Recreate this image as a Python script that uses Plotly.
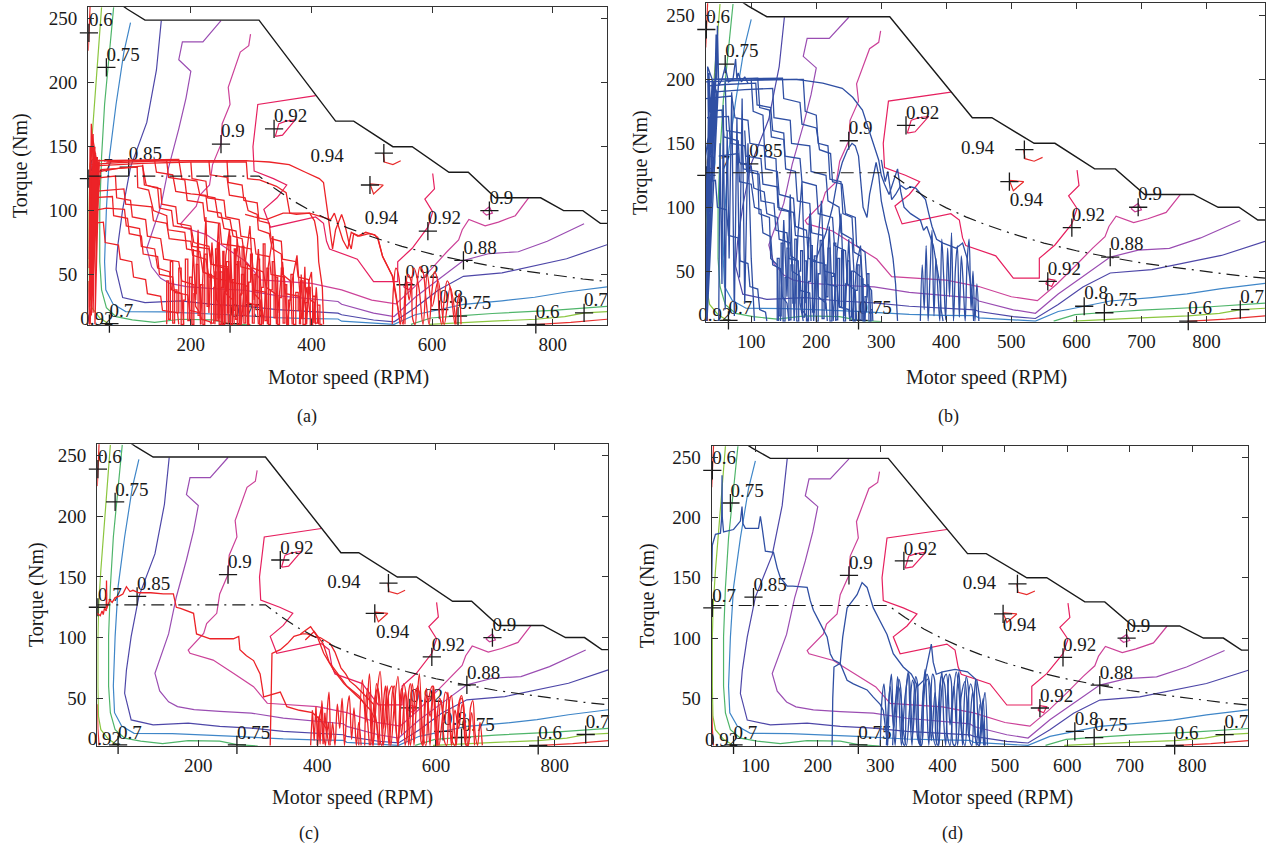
import plotly.graph_objects as go

W, H = 1267, 849
FONT = "Liberation Serif"
INK = "#1a1a1a"

# ---------------- axes ----------------
RPM_RANGE = [30, 890]
TORQUE_RANGE = [10.5, 259.5]
TORQUE_TICKS = [50, 100, 150, 200, 250]
RPM_TICKS_AC = [200, 400, 600, 800]
RPM_TICKS_BD = [100, 200, 300, 400, 500, 600, 700, 800]

# ---------------- efficiency map contour lines (same map in all panels) ----------------
EFF_COLORS = {0.6: "#e8302f", 0.7: "#8cc63f", 0.75: "#4fb56a", 0.8: "#3f86c8",
              0.85: "#4e47a8", 0.88: "#9a4db2", 0.9: "#cc4299", 0.92: "#e6205f", 0.94: "#e82c2c"}

eff060_top_rpm = [33, 31.5, 30]
eff060_top_tq = [260, 240, 225]
eff060_low_rpm = [30.2, 31, 33]
eff060_low_tq = [45, 25, 11]
eff060_right_rpm = [770, 830, 890]
eff060_right_tq = [10.8, 12.5, 15]

eff070_left_rpm = [52, 46.6, 41.3, 36, 32.2, 31, 31, 32, 36, 49, 65]
eff070_left_tq = [259, 224, 197, 156, 125, 100, 60, 35, 24, 16, 11]
eff070_right_rpm = [595, 650, 700, 772, 820, 853, 890]
eff070_right_tq = [11, 12.5, 13.5, 15, 17, 20, 21]

eff075_left_rpm = [72, 65, 57, 52, 49, 49, 52, 60, 76, 103, 140, 183, 236, 265, 300]
eff075_left_tq = [259, 224, 183, 142, 101, 60, 38, 24, 17, 14.5, 12.5, 15, 14.5, 11.6, 10.5]
eff075_right_rpm = [565, 598, 644, 700, 800, 853, 890]
eff075_right_tq = [11, 16, 17.7, 19.5, 22, 23.5, 25]

eff080_rpm = [100, 89, 76, 65, 60, 57, 59, 71, 92, 156, 263, 343, 396, 444, 450, 500,
              537, 572, 612, 652, 716, 770, 823, 890]
eff080_tq = [247, 224, 183, 142, 101, 60, 38, 27, 21, 20.7, 18.5, 16.3, 15.5, 15.2, 13.5, 12,
             11, 18.5, 22.6, 26.7, 29.4, 32.2, 36.3, 40.4]

eff085_rpm = [151, 143, 127, 100, 87, 79, 76, 87, 124, 183, 236, 289, 343, 396, 444, 450, 503,
              537, 572, 610, 652, 716, 770, 823, 890]
eff085_tq = [248.6, 210, 169, 134, 101, 73, 54, 32, 28, 29.4, 26.7, 25.3, 22.6, 21.2, 19.8, 18.5,
             14.4, 13, 24, 37.7, 48.6, 51.3, 56.8, 62.3, 73.3]

eff088_rpm = [250, 220, 186, 180, 200, 192, 180, 163, 150, 127, 135, 150, 165, 193, 236, 289, 343,
              396, 444, 450, 503, 537, 572, 610, 652, 695, 743, 791, 823, 852]
eff088_tq = [248.6, 232, 232, 218, 209, 188, 164, 133.5, 103, 70.5, 56, 47, 43, 40.5, 39, 37.7, 33.5,
             30.8, 28.9, 26.7, 19.8, 17.1, 32.2, 45.9, 61, 66.4, 67.8, 76, 82.9, 89.7]

eff090_rpm = [299, 296, 282, 270, 262, 265, 252, 250, 236, 231, 214, 209, 183, 186, 225, 259, 293,
              316, 355, 400, 450, 500, 540, 570, 600, 625, 644, 650, 661, 688, 710, 738, 760]
eff090_tq = [238, 229, 224, 207.5, 196.5, 183, 168, 152, 136, 120, 111.6, 103.4, 89.6, 87, 81.4,
             70.5, 59.5, 45.8, 44.4, 43, 38, 30, 27, 40, 55, 68, 77, 85, 93, 88, 91, 96, 110]
eff090_loop_rpm = [684, 695, 700, 690, 684]
eff090_loop_tq = [99, 103, 98, 96.5, 99]

eff092_rpm = [407, 311, 303, 305, 337, 359, 343, 321, 332, 361, 407, 420, 425, 430, 476, 503, 543,
              543, 567, 593, 601, 588, 604, 601]
eff092_tq = [190, 183, 150, 131, 125, 120, 110, 101, 87, 90, 95, 90, 76, 70, 62, 44.5, 44.5, 60,
             70.5, 87, 99, 109, 117, 129]
eff092_loop_rpm = [340, 346, 358, 373, 352, 340]
eff092_loop_tq = [158, 168, 170, 171, 159, 158]
eff092_small_rpm = [553, 556, 567, 562, 553]
eff092_small_tq = [40, 44, 43, 38, 40]

eff094_l1_rpm = [519, 521, 535, 548]
eff094_l1_tq = [145, 138, 136, 139]
eff094_l2_rpm = [497, 503, 519, 497]
eff094_l2_tq = [121, 113, 120, 121]

CONTOURS = [
    (0.6, eff060_top_rpm, eff060_top_tq), (0.6, eff060_low_rpm, eff060_low_tq),
    (0.6, eff060_right_rpm, eff060_right_tq),
    (0.7, eff070_left_rpm, eff070_left_tq), (0.7, eff070_right_rpm, eff070_right_tq),
    (0.75, eff075_left_rpm, eff075_left_tq), (0.75, eff075_right_rpm, eff075_right_tq),
    (0.8, eff080_rpm, eff080_tq), (0.85, eff085_rpm, eff085_tq), (0.88, eff088_rpm, eff088_tq),
    (0.9, eff090_rpm, eff090_tq), (0.9, eff090_loop_rpm, eff090_loop_tq),
    (0.92, eff092_rpm, eff092_tq), (0.92, eff092_loop_rpm, eff092_loop_tq),
    (0.92, eff092_small_rpm, eff092_small_tq),
    (0.94, eff094_l1_rpm, eff094_l1_tq), (0.94, eff094_l2_rpm, eff094_l2_tq),
]

# max torque envelope and base-speed (constant power) line
env_rpm = [70, 95, 124, 313, 440, 470, 535, 567, 628, 660, 705, 780, 818, 850, 879, 890]
env_tq = [266, 257.5, 249, 249, 170, 170, 150, 150, 130, 130, 110, 110, 100, 100, 90, 90]
base_rpm = [30, 313, 340, 370, 400, 430, 460, 500, 550, 600, 650, 700, 750, 800, 850, 890]
base_tq = [127, 127, 117, 107.5, 99.5, 92.5, 86.5, 79.5, 72, 66, 61, 56.5, 53, 49.5, 46.5, 44.5]

# contour labels ('+' markers) shared by all panels
lab_rpm = [31, 60, 31, 97, 250, 338, 520, 497, 593, 695, 652, 556, 612, 643, 772, 852, 65, 265]
lab_tq = [239, 212, 125, 134, 152, 164, 145, 120, 84, 100, 61, 42, 22.6, 17.5, 11, 20, 11.5, 11.5]
lab_txt = ["0.6", "0.75", "0.7", "0.85", "0.9", "0.92", "", "", "0.92", "0.9", "0.88", "0.92",
           "0.8", "0.75", "0.6", "0.7", "0.7", "0.75"]

# free-standing labels per panel
free_a_rpm, free_a_tq, free_a_txt = [426, 516, 44], [142, 93, 14.5], ["0.94", "0.94", "0.92"]
free_b_rpm, free_b_tq, free_b_txt = [448, 523, 44], [145, 105, 14.5], ["0.94", "0.94", "0.92"]
free_c_rpm, free_c_tq, free_c_txt = [445, 527, 42], [144.5, 103.4, 15.6], ["0.94", "0.94", "0.92"]
free_d_rpm, free_d_tq, free_d_txt = [459, 523, 46], [144.5, 110, 14.5], ["0.94", "0.94", "0.92"]

# ---------------- operating-point trajectories ----------------
# panel (a)
ta1_rpm = [31, 32, 31, 34, 32, 35, 31, 33, 36, 32, 38, 35, 33, 40, 31, 37, 34, 42, 32, 36, 45, 33, 38,
           31, 48, 35, 40, 33, 44, 31, 37, 50, 34, 41, 32, 36, 46, 33, 31]
ta1_tq = [11, 50, 20, 95, 35, 130, 62, 150, 110, 25, 140, 168, 75, 138, 15, 122, 45, 145, 88, 160, 136,
          30, 128, 70, 140, 18, 118, 100, 142, 55, 135, 130, 40, 150, 82, 126, 138, 12, 11]
ta2_rpm = [35, 60, 100, 150, 200, 250, 292, 330, 363, 390, 413, 420, 424, 427, 432, 435, 440, 450,
           455, 462, 466, 470, 480, 495, 505, 510, 518, 527, 535, 540, 545, 547]
ta2_tq = [136, 137, 138, 139, 139, 139, 139, 138, 136, 130, 125, 122, 110, 98, 80, 70, 85, 97, 90, 75,
          70, 82, 80, 82, 81, 78, 64, 55, 48, 35, 20, 11]
ta3_rpm = [40, 120, 200, 292, 294, 314, 342, 358, 364, 375, 397, 405, 410, 412, 418, 420]
ta3_tq = [135, 137, 138, 138, 125, 124, 119, 114, 98, 97, 98, 92, 80, 60, 40, 11]
ta4_rpm = [40, 80, 120, 126, 140, 150, 152, 175, 178, 200, 205, 230, 235, 255, 258, 270, 272]
ta4_tq = [130, 133, 135, 120, 118, 117, 105, 103, 90, 88, 75, 72, 58, 55, 35, 30, 11]
ta5_rpm = [35, 75, 77, 100, 103, 125, 128, 150, 155, 180, 185, 205, 208, 215, 217]
ta5_tq = [125, 127, 110, 108, 95, 93, 80, 78, 62, 60, 45, 42, 25, 20, 11]
ta6_rpm = [45, 180, 185, 210, 215, 240, 245, 265, 270, 285, 290, 300, 305, 315, 318]
ta6_tq = [139, 140, 125, 123, 112, 110, 95, 93, 80, 78, 60, 55, 35, 30, 11]
ta7_rpm = [50, 100, 111, 112, 130, 138, 160, 162, 190, 193, 215, 220, 240, 243, 250, 252]
ta7_tq = [132, 134, 134, 118, 116, 100, 96, 85, 83, 70, 68, 52, 48, 30, 25, 11]
ta8_rpm = [38, 60, 90, 93, 115, 118, 140, 145, 165, 168, 185, 188]
ta8_tq = [100, 102, 101, 88, 86, 72, 70, 55, 52, 38, 35, 11]
ta9_rpm = [40, 89, 92, 135, 138, 160, 164, 200, 203, 225, 230, 260, 262]
ta9_tq = [115, 117, 105, 103, 92, 90, 78, 76, 65, 62, 48, 45, 11]
ta10_rpm = [230, 232, 260, 264, 290, 295, 310, 312, 330, 335, 350, 352, 365, 368]
ta10_tq = [139, 128, 126, 112, 110, 100, 97, 85, 82, 70, 66, 50, 45, 11]
ta11_rpm = [140, 143, 170, 175, 200, 225, 228, 250, 255, 275, 278, 300, 303, 320, 325, 340, 342]
ta11_tq = [139, 130, 128, 115, 113, 112, 100, 98, 86, 84, 72, 70, 55, 52, 40, 35, 11]
ta12_rpm = [290, 305, 325, 353, 397, 413, 425, 432, 438, 452, 460, 466, 477, 490, 504, 510, 518, 534,
            545, 548]
ta12_tq = [97, 95, 93, 98, 98, 96, 94, 93, 98, 77, 70, 83, 80, 83, 81, 79, 64, 49, 20, 11]
ta13_rpm = [160, 163, 166, 170, 173, 177, 180, 184, 188, 191, 195, 198, 202, 205, 209, 212, 216, 220,
            223, 227, 230, 234, 238, 241, 245, 248, 252, 256, 259, 263, 266, 270, 273, 277, 281, 284,
            288, 291, 295, 298]
ta13_tq = [11, 45, 15, 60, 12, 38, 20, 55, 11, 30, 62, 14, 48, 11, 35, 58, 18, 42, 11, 66, 25, 50, 12,
           40, 70, 16, 52, 11, 37, 60, 13, 45, 22, 58, 11, 34, 50, 12, 41, 11]
ta14_rpm = [240, 242, 245, 247, 250, 253, 255, 258, 261, 263, 266, 269, 272, 274, 277, 280, 283, 285,
            288, 291, 294, 296, 299, 302, 305, 308, 311, 314, 317, 320, 323, 326, 329, 332, 335, 338,
            341, 344, 347, 350, 353, 356, 359, 362, 366, 370, 374, 378, 382, 386, 390, 394, 398, 402,
            406, 410, 414, 418]
ta14_tq = [11, 52, 14, 75, 11, 40, 68, 12, 55, 20, 80, 11, 46, 70, 15, 60, 11, 35, 72, 18, 58, 11, 44,
           66, 12, 50, 25, 62, 11, 40, 74, 14, 55, 11, 38, 60, 16, 48, 11, 32, 55, 12, 42, 11, 30, 50,
           11, 36, 22, 45, 11, 28, 40, 11, 33, 12, 26, 11]
ta15_rpm = [200, 204, 208, 212, 216, 221, 225, 230, 235, 240, 246, 252, 258, 264, 270, 277, 284, 291,
            298, 305, 312, 320, 328, 336, 344, 352, 360, 368, 376, 384, 392, 400]
ta15_tq = [11, 70, 30, 85, 11, 60, 95, 20, 75, 40, 90, 11, 65, 85, 25, 78, 11, 62, 88, 30, 70, 11, 55,
           80, 20, 60, 11, 45, 65, 15, 40, 11]
ta16_rpm = [380, 383, 386, 389, 392, 396, 400, 404, 408, 412]
ta16_tq = [11, 50, 15, 56, 11, 45, 52, 12, 40, 11]
ta17_rpm = [534, 536, 540, 545, 548, 552, 555, 560, 565, 568, 572, 575, 580, 585, 590, 595, 600, 604,
            608, 612, 616, 620, 625, 630, 634, 638, 642, 645, 648]
ta17_tq = [11, 40, 55, 48, 20, 11, 35, 50, 45, 15, 11, 42, 56, 52, 30, 11, 38, 52, 48, 20, 11, 30, 45,
           40, 25, 11, 28, 35, 11]
ta18_rpm = [555, 558, 562, 570, 578, 585, 592, 600, 610, 620, 630, 640]
ta18_tq = [11, 45, 30, 55, 40, 11, 50, 25, 45, 11, 40, 11]
ta19_rpm = [60, 100, 160, 163, 190, 194, 220, 223, 248, 251, 280, 283, 300, 303, 325, 327]
ta19_tq = [138, 139, 139, 126, 124, 108, 106, 92, 90, 74, 72, 56, 54, 38, 36, 11]
ta20_rpm = [33, 70, 72, 95, 98, 118, 121, 145, 148, 170, 173, 195, 198, 215, 218, 232, 234]
ta20_tq = [110, 111, 96, 94, 82, 80, 66, 64, 50, 48, 36, 34, 22, 20, 15, 13, 11]
ta21_rpm = [37, 55, 58, 80, 83, 102, 105, 125, 128, 150, 153, 178, 180]
ta21_tq = [90, 91, 75, 73, 62, 60, 48, 46, 35, 33, 22, 20, 11]
ta22_rpm = [120, 123, 145, 148, 168, 171, 200, 203, 230, 233, 262, 265, 290, 293, 310, 312]
ta22_tq = [136, 120, 118, 102, 100, 88, 86, 72, 70, 58, 56, 44, 42, 28, 26, 11]
ta23_rpm = [200, 202, 225, 228, 255, 258, 280, 283, 305, 308, 330, 333, 355, 357, 380, 382]
ta23_tq = [138, 125, 123, 110, 108, 95, 93, 80, 78, 66, 64, 50, 48, 35, 33, 11]
ta24_rpm = [260, 262, 285, 288, 310, 313, 330, 333, 350, 352, 375, 378, 395, 398, 405, 407]
ta24_tq = [139, 122, 120, 108, 106, 92, 90, 78, 76, 62, 60, 48, 46, 30, 28, 11]
ta25_rpm = [36, 38, 36, 40, 38, 42, 39, 45, 41, 48]
ta25_tq = [40, 160, 80, 150, 20, 135, 60, 142, 11, 138]

# panel (b)
tb1_rpm = [30, 31, 30, 33, 31, 34, 32, 36, 30, 35, 38, 32, 40, 34, 31, 44, 36, 33, 47, 31, 38, 42, 34,
           30, 46, 36, 32, 50, 40, 31]
tb1_tq = [11, 60, 25, 110, 40, 150, 80, 190, 20, 205, 170, 50, 200, 130, 15, 195, 100, 210, 190, 70,
          160, 198, 35, 140, 205, 90, 11, 200, 120, 11]
tb2_rpm = [30, 80, 120, 170, 210, 240, 256, 271, 286, 296, 300, 305, 312, 320, 325, 330, 335, 345, 360,
           365, 370, 380, 385, 390, 392, 395]
tb2_tq = [198, 199, 200, 200, 197, 193, 186, 176, 153, 137, 125, 118, 110, 122, 130, 112, 100, 95, 90,
          82, 85, 70, 55, 40, 20, 11]
tb3_rpm = [35, 60, 107, 109, 130, 133, 150, 152, 175, 178, 200, 203, 225, 228, 245, 248, 260, 262]
tb3_tq = [195, 196, 197, 180, 178, 160, 158, 140, 138, 120, 117, 95, 92, 70, 66, 40, 35, 11]
tb4_rpm = [40, 90, 133, 135, 160, 162, 190, 192, 215, 218, 235, 238, 255, 258, 270, 272]
tb4_tq = [190, 192, 193, 170, 168, 150, 148, 128, 125, 105, 100, 80, 75, 50, 45, 11]
tb5_rpm = [45, 148, 150, 175, 178, 200, 205, 222, 225, 240, 245, 260, 262, 275, 278, 285, 287]
tb5_tq = [200, 201, 185, 182, 165, 162, 145, 142, 120, 118, 95, 92, 70, 65, 40, 35, 11]
tb6_rpm = [30, 70, 75, 95, 98, 120, 122, 140, 143, 165, 168, 185, 188, 200, 203, 215, 217]
tb6_tq = [185, 187, 170, 168, 150, 148, 130, 128, 110, 107, 85, 82, 60, 58, 30, 25, 11]
tb7_rpm = [35, 55, 58, 80, 82, 100, 104, 120, 124, 140, 143, 160, 163, 175, 178, 185, 187]
tb7_tq = [175, 176, 155, 152, 135, 132, 115, 112, 95, 92, 75, 72, 50, 46, 20, 15, 11]
tb8_rpm = [50, 80, 82, 100, 105, 115, 118, 130, 133, 145, 148, 155, 158]
tb8_tq = [140, 142, 120, 118, 100, 98, 80, 77, 55, 52, 30, 25, 11]
tb9_rpm = [200, 215, 225, 232, 240, 248, 255, 260, 265, 268, 272, 278, 282, 288, 292, 296, 300, 306,
           312, 318, 322, 325]
tb9_tq = [60, 80, 100, 120, 135, 145, 150, 148, 140, 120, 100, 92, 110, 125, 135, 125, 105, 90, 78, 60,
          40, 11]
tb10_rpm = [300, 306, 310, 316, 322, 330, 338, 345, 353, 362, 368, 373, 378, 385, 395, 405, 415, 425,
            432, 436, 440, 442]
tb10_tq = [137, 120, 128, 106, 110, 117, 114, 116, 115, 110, 106, 95, 85, 75, 72, 70, 68, 72, 60, 45,
           30, 11]
tb11_rpm = [44, 46, 47, 48, 50, 55, 60, 65, 72, 76, 78, 80, 85, 90, 95]
tb11_tq = [190, 235, 200, 242, 195, 200, 210, 198, 200, 216, 200, 205, 198, 202, 197]
tb12_rpm = [360, 363, 366, 369, 372, 375, 378, 381, 384, 387, 390, 393, 396, 399, 402, 405, 408, 411,
            414, 417, 420, 423, 426, 429, 432, 435, 438, 441, 444, 447, 450]
tb12_tq = [11, 55, 20, 70, 11, 48, 82, 15, 60, 35, 11, 75, 45, 12, 68, 30, 80, 11, 52, 70, 14, 62, 40,
           11, 58, 75, 20, 50, 11, 40, 11]
tb13_rpm = [140, 143, 146, 149, 152, 155, 158, 161, 164, 167, 170, 173, 176, 179, 182, 185, 188, 191,
            194, 197, 200, 203, 206, 209, 212, 215, 218, 221, 224, 227, 230, 233, 236, 239, 242, 245,
            248, 251, 254, 257, 260, 263, 266, 269, 272, 275, 278, 281, 284, 287]
tb13_tq = [11, 60, 15, 72, 11, 45, 68, 12, 55, 25, 75, 11, 50, 66, 14, 58, 11, 42, 70, 18, 62, 11, 48,
           74, 13, 55, 30, 68, 11, 46, 72, 12, 60, 22, 66, 11, 40, 58, 14, 50, 11, 35, 55, 12, 44, 11,
           30, 48, 11, 20]
tb14_rpm = [145, 150, 155, 160, 166, 172, 178, 184, 190, 196, 202, 208, 214, 220, 226, 232, 238, 244,
            250, 256, 262, 268, 274, 280]
tb14_tq = [11, 90, 30, 110, 11, 80, 120, 25, 95, 11, 70, 105, 20, 85, 11, 65, 95, 15, 75, 11, 55, 70,
           11, 40]
tb15_rpm = [60, 62, 85, 88, 110, 112, 128, 130, 140, 142]
tb15_tq = [198, 160, 158, 130, 128, 95, 92, 60, 55, 11]
tb16_rpm = [100, 103, 118, 121, 138, 141, 158, 161, 172, 175, 180]
tb16_tq = [200, 175, 172, 140, 138, 100, 97, 62, 58, 25, 11]
tb17_rpm = [32, 65, 68, 90, 93, 112, 115, 135, 138, 155, 158, 172, 175, 190, 192]
tb17_tq = [170, 171, 150, 148, 128, 126, 105, 103, 82, 80, 60, 58, 35, 33, 11]
tb18_rpm = [40, 110, 113, 128, 131, 150, 153, 168, 171, 190, 193, 210, 213, 228, 230]
tb18_tq = [200, 201, 178, 176, 155, 153, 130, 128, 105, 103, 80, 78, 50, 48, 11]
tb19_rpm = [60, 180, 183, 200, 203, 218, 221, 238, 241, 255, 258, 268, 270, 282, 284]
tb19_tq = [199, 200, 175, 172, 150, 148, 122, 120, 95, 92, 65, 62, 40, 38, 11]
tb20_rpm = [35, 45, 48, 62, 65, 80, 83, 95, 98, 110, 113, 122, 124]
tb20_tq = [120, 121, 100, 98, 78, 76, 58, 56, 38, 36, 20, 18, 11]
tb21_rpm = [90, 92, 115, 118, 140, 143, 165, 168, 190, 193, 212, 215, 232, 235, 250, 252]
tb21_tq = [160, 140, 138, 118, 116, 98, 96, 78, 76, 58, 56, 40, 38, 22, 20, 11]
tb22_rpm = [50, 52, 55, 57, 60, 63, 66, 70, 74, 78, 82, 86, 90, 95, 100, 105]
tb22_tq = [11, 150, 40, 180, 20, 160, 60, 190, 15, 170, 45, 185, 25, 150, 60, 11]

# panel (c)
tc1_rpm = [30, 35, 38, 40, 42, 45, 45.5, 46, 48, 51, 55, 60, 66, 73, 79, 85, 90, 100, 120, 141, 158,
           163, 170, 180, 192, 197, 220, 259, 268, 270, 281, 293, 304, 310, 325, 338, 349, 370, 392,
           406, 415, 420]
tc1_tq = [120, 118, 122, 119, 124, 122, 147, 124, 127, 131, 129, 133, 134, 136, 142, 138, 139, 137,
          137, 136, 136, 125, 124, 122, 120, 103, 99, 99, 101, 90, 85, 81, 70, 51, 53, 55, 43, 40, 38,
          32, 25, 11]
tc2_rpm = [321, 322, 324, 338, 350, 361, 375, 383, 394, 405, 422, 430, 440, 448, 455, 465, 475, 485,
           495, 500, 503]
tc2_tq = [11, 50, 87, 90, 95, 101, 103, 103, 101, 100, 95, 88, 75, 70, 64, 60, 55, 50, 45, 30, 11]
tc3_rpm = [372, 389, 400, 411, 428, 445, 462, 475, 490, 500, 505]
tc3_tq = [103, 109, 101, 87, 73, 62, 54, 48, 40, 30, 11]
tc4_rpm = [380, 395, 410, 420, 435, 450, 470, 480, 485, 488]
tc4_tq = [98, 105, 95, 80, 70, 60, 52, 45, 30, 11]
tc5_rpm = [389, 392, 395, 398, 401, 404, 407, 410, 413, 416, 419, 422]
tc5_tq = [11, 40, 15, 43, 11, 35, 42, 12, 38, 20, 30, 11]
tc6_rpm = [400, 402, 405, 408, 411, 414, 417, 420, 423, 426, 430, 434, 438, 442, 446, 450, 454, 458,
           462, 466, 470, 474]
tc6_tq = [11, 35, 12, 48, 20, 11, 40, 55, 14, 30, 11, 45, 25, 50, 11, 38, 52, 16, 42, 11, 30, 11]
tc7_rpm = [480, 482, 485, 488, 491, 494, 497, 500, 503, 506, 509, 512, 515, 518, 521, 524, 527, 530,
           533, 536, 539, 542, 545, 548, 551, 554, 557, 560, 563, 566, 569, 572, 575, 578, 581, 584,
           587, 590, 593, 596, 599, 602]
tc7_tq = [11, 45, 58, 50, 20, 11, 40, 62, 55, 15, 11, 48, 60, 35, 11, 30, 56, 60, 25, 11, 42, 58, 50,
          11, 20, 55, 62, 45, 11, 35, 60, 52, 14, 11, 48, 58, 30, 11, 40, 55, 20, 11]
tc8_rpm = [600, 603, 606, 610, 614, 618, 622, 626, 630, 634, 638, 642, 646, 650, 654, 658, 662, 666,
           670, 674, 678]
tc8_tq = [11, 40, 50, 44, 15, 11, 45, 52, 30, 11, 38, 50, 46, 12, 11, 42, 48, 20, 11, 30, 11]
tc9_rpm = [470, 476, 482, 488, 494, 500, 506, 512, 518, 524, 530, 536, 542, 548, 554, 560, 566, 572,
           578, 584, 590, 596, 602, 608, 614, 620, 626, 632, 638, 644, 650]
tc9_tq = [11, 65, 30, 70, 11, 50, 72, 25, 60, 11, 45, 68, 20, 55, 11, 62, 40, 70, 11, 52, 35, 60, 11,
          48, 30, 55, 11, 40, 25, 45, 11]
tc10_rpm = [490, 493, 497, 502, 507, 511, 515, 520, 526, 531, 536, 541, 546, 551, 557, 562, 567, 572,
            578, 583, 588, 594, 599, 605, 610, 616, 621, 627, 632, 638, 643, 649, 654, 660, 665]
tc10_tq = [11, 30, 50, 58, 40, 11, 25, 52, 60, 35, 11, 45, 62, 48, 11, 38, 58, 55, 20, 11, 50, 60, 40,
           11, 30, 55, 50, 15, 11, 45, 52, 30, 11, 38, 11]

# panel (d)
td1_rpm = [30, 31, 36, 44, 46, 46.6, 47, 49, 65, 76, 78.6, 80, 84, 105, 108, 111, 116, 129, 135, 140,
           151, 160, 183, 188, 193, 204, 215, 220, 225, 236, 247, 257, 279, 289, 300, 305, 310, 312]
td1_tq = [147, 177, 186, 187, 200, 235, 200, 188, 190, 197, 209, 195, 191, 191, 201, 191, 172, 171,
          158, 150, 143, 143, 142, 131, 123, 112, 101, 87, 82, 79, 65, 62, 57, 51, 45, 40, 20, 11]
td2_rpm = [223, 224, 226, 236, 240, 247, 263, 271, 279, 289, 300, 311, 321, 337, 350, 360, 370, 382,
           385, 390, 400, 420, 440, 455, 460, 465, 468]
td2_tq = [11, 50, 76, 79, 101, 125, 136, 146, 142, 125, 114, 103, 87, 76, 70, 60, 65, 95, 80, 70, 72,
          74, 72, 65, 50, 30, 11]
td3_rpm = [300, 303, 306, 309, 312, 315, 318, 321, 324, 327, 330, 333, 336, 339, 342, 345, 348, 351,
           354, 357, 360, 363, 366, 369, 372, 375, 378, 381, 384, 387, 390, 393, 396, 399, 402, 405,
           408, 411, 414, 417, 420, 423, 426, 429, 432, 435, 438, 441, 444, 447, 450, 453, 456, 459,
           462, 465, 468]
td3_tq = [11, 50, 62, 40, 11, 55, 70, 30, 11, 45, 66, 58, 14, 11, 60, 72, 35, 11, 50, 68, 62, 12, 11,
          56, 74, 40, 11, 48, 70, 66, 14, 11, 58, 72, 30, 11, 52, 70, 64, 12, 11, 55, 72, 45, 11, 50,
          68, 60, 14, 11, 44, 66, 40, 11, 35, 50, 11]
td4_rpm = [310, 316, 322, 328, 334, 340, 346, 352, 358, 364, 370, 376, 382, 388, 394, 400, 406, 412,
           418, 424, 430, 436, 442, 448, 454, 460, 466]
td4_tq = [11, 60, 25, 68, 11, 52, 70, 20, 62, 11, 58, 66, 15, 55, 11, 62, 70, 28, 60, 11, 52, 64, 18,
          55, 11, 45, 11]
td5_rpm = [320, 324, 329, 333, 338, 342, 347, 352, 356, 361, 366, 370, 375, 380, 384, 389, 394, 398,
           403, 408, 412, 417, 422, 426, 431, 436, 440, 445, 450, 454, 459, 464, 468, 472]
td5_tq = [11, 45, 60, 52, 20, 11, 40, 65, 55, 15, 11, 50, 70, 60, 22, 11, 48, 68, 62, 18, 11, 52, 72,
          58, 20, 11, 45, 62, 50, 14, 11, 40, 55, 11]

RED = "#ec2227"
BLUE = "#2f4fa3"
L, V, S = "linear", "vh", "spline"   # line drawing style per trajectory

PANELS = [
    dict(s="", box=(88.3, 607, 6.7, 325), ticks=RPM_TICKS_AC, color=RED,
         traj=[(ta1_rpm, ta1_tq, L), (ta2_rpm, ta2_tq, L), (ta3_rpm, ta3_tq, L), (ta4_rpm, ta4_tq, L),
               (ta5_rpm, ta5_tq, L), (ta6_rpm, ta6_tq, L), (ta7_rpm, ta7_tq, L), (ta8_rpm, ta8_tq, L),
               (ta9_rpm, ta9_tq, L), (ta10_rpm, ta10_tq, L), (ta11_rpm, ta11_tq, L),
               (ta12_rpm, ta12_tq, L), (ta13_rpm, ta13_tq, V), (ta14_rpm, ta14_tq, V),
               (ta15_rpm, ta15_tq, L), (ta16_rpm, ta16_tq, L), (ta17_rpm, ta17_tq, S),
               (ta18_rpm, ta18_tq, S), (ta19_rpm, ta19_tq, L), (ta20_rpm, ta20_tq, L),
               (ta21_rpm, ta21_tq, L), (ta22_rpm, ta22_tq, L), (ta23_rpm, ta23_tq, L),
               (ta24_rpm, ta24_tq, L), (ta25_rpm, ta25_tq, L)],
         free=(free_a_rpm, free_a_tq, free_a_txt), xt=(348, 377), yt=(20, 166), cap=("(a)", 307, 417)),
    dict(s="2", box=(705.7, 1265, 3.3, 321.7), ticks=RPM_TICKS_BD, color=BLUE,
         traj=[(tb1_rpm, tb1_tq, L), (tb2_rpm, tb2_tq, L), (tb3_rpm, tb3_tq, L), (tb4_rpm, tb4_tq, L),
               (tb5_rpm, tb5_tq, L), (tb6_rpm, tb6_tq, L), (tb7_rpm, tb7_tq, L), (tb8_rpm, tb8_tq, L),
               (tb9_rpm, tb9_tq, L), (tb10_rpm, tb10_tq, L), (tb11_rpm, tb11_tq, L),
               (tb12_rpm, tb12_tq, S), (tb13_rpm, tb13_tq, V), (tb14_rpm, tb14_tq, L),
               (tb15_rpm, tb15_tq, L), (tb16_rpm, tb16_tq, L), (tb17_rpm, tb17_tq, L),
               (tb18_rpm, tb18_tq, L), (tb19_rpm, tb19_tq, L), (tb20_rpm, tb20_tq, L),
               (tb21_rpm, tb21_tq, L), (tb22_rpm, tb22_tq, L)],
         free=(free_b_rpm, free_b_tq, free_b_txt), xt=(986, 377), yt=(640, 163), cap=("(b)", 948, 417)),
    dict(s="3", box=(97.3, 608.3, 444.3, 746), ticks=RPM_TICKS_AC, color=RED,
         traj=[(tc1_rpm, tc1_tq, L), (tc2_rpm, tc2_tq, L), (tc3_rpm, tc3_tq, L), (tc4_rpm, tc4_tq, L),
               (tc5_rpm, tc5_tq, L), (tc6_rpm, tc6_tq, S), (tc7_rpm, tc7_tq, S), (tc8_rpm, tc8_tq, S),
               (tc9_rpm, tc9_tq, S), (tc10_rpm, tc10_tq, S)],
         free=(free_c_rpm, free_c_tq, free_c_txt), xt=(352, 797), yt=(36, 595), cap=("(c)", 309, 833)),
    dict(s="4", box=(711.7, 1248.3, 445.7, 746), ticks=RPM_TICKS_BD, color=BLUE,
         traj=[(td1_rpm, td1_tq, L), (td2_rpm, td2_tq, L), (td3_rpm, td3_tq, S), (td4_rpm, td4_tq, S),
               (td5_rpm, td5_tq, S)],
         free=(free_d_rpm, free_d_tq, free_d_txt), xt=(992, 797), yt=(647, 596), cap=("(d)", 952, 833)),
]

fig = go.Figure()
annotations = []
layout_axes = {}

for p in PANELS:
    xa, ya = "x" + p["s"], "y" + p["s"]
    # efficiency contours
    for lvl, xs, ys in CONTOURS:
        fig.add_trace(go.Scatter(x=xs, y=ys, mode="lines", xaxis=xa, yaxis=ya,
                                 line=dict(color=EFF_COLORS[lvl], width=1.2), hoverinfo="skip"))
    # contour label markers and texts
    fig.add_trace(go.Scatter(x=lab_rpm, y=lab_tq, mode="markers", xaxis=xa, yaxis=ya, cliponaxis=False,
                             marker=dict(symbol="cross-thin", size=13, line=dict(width=1.3, color=INK)),
                             hoverinfo="skip"))
    txt_x = [x for x, t in zip(lab_rpm, lab_txt) if t]
    txt_y = [y + 9 for y, t in zip(lab_tq, lab_txt) if t]
    txt_t = [t for t in lab_txt if t]
    fig.add_trace(go.Scatter(x=txt_x, y=txt_y, text=txt_t, mode="text", textposition="middle right",
                             xaxis=xa, yaxis=ya, cliponaxis=False,
                             textfont=dict(family=FONT, size=19, color=INK), hoverinfo="skip"))
    fx, fy, ft = p["free"]
    fig.add_trace(go.Scatter(x=fx, y=fy, text=ft, mode="text", textposition="middle center",
                             xaxis=xa, yaxis=ya, cliponaxis=False,
                             textfont=dict(family=FONT, size=19, color=INK), hoverinfo="skip"))
    # trajectories
    for xs, ys, shp in p["traj"]:
        line = dict(color=p["color"], width=1.3, shape=shp)
        if shp == S:
            line["smoothing"] = 1.0
        fig.add_trace(go.Scatter(x=xs, y=ys, mode="lines", xaxis=xa, yaxis=ya, line=line,
                                 hoverinfo="skip"))
    # envelope and base line
    fig.add_trace(go.Scatter(x=env_rpm, y=env_tq, mode="lines", xaxis=xa, yaxis=ya,
                             line=dict(color=INK, width=1.4), hoverinfo="skip"))
    fig.add_trace(go.Scatter(x=base_rpm, y=base_tq, mode="lines", xaxis=xa, yaxis=ya,
                             line=dict(color=INK, width=1.2, dash="13px,6px,2px,6px"), hoverinfo="skip"))

    l, r, t, b = p["box"]
    common = dict(showline=True, linecolor="#333", linewidth=1.3, mirror="ticks", ticks="inside",
                  ticklen=6, tickwidth=1, tickcolor="#333", showgrid=False, zeroline=False,
                  tickfont=dict(family=FONT, size=19, color=INK))
    layout_axes["xaxis" + p["s"]] = dict(domain=[l / W, r / W], range=RPM_RANGE, anchor=ya,
                                         tickvals=p["ticks"], ticklabelstandoff=2, **common)
    layout_axes["yaxis" + p["s"]] = dict(domain=[1 - b / H, 1 - t / H], range=TORQUE_RANGE, anchor=xa,
                                         tickvals=TORQUE_TICKS, ticklabelstandoff=6, **common)
    annotations.append(dict(text="Motor speed (RPM)", x=p["xt"][0] / W, y=1 - p["xt"][1] / H,
                            xref="paper", yref="paper", showarrow=False, xanchor="center",
                            yanchor="middle", font=dict(family=FONT, size=20, color=INK)))
    annotations.append(dict(text="Torque (Nm)", x=p["yt"][0] / W, y=1 - p["yt"][1] / H, textangle=-90,
                            xref="paper", yref="paper", showarrow=False, xanchor="center",
                            yanchor="middle", font=dict(family=FONT, size=20, color=INK)))
    annotations.append(dict(text=p["cap"][0], x=p["cap"][1] / W, y=1 - p["cap"][2] / H,
                            xref="paper", yref="paper", showarrow=False, xanchor="center",
                            yanchor="middle", font=dict(family=FONT, size=18, color=INK)))

fig.update_layout(width=W, height=H, margin=dict(l=0, r=0, t=0, b=0), showlegend=False,
                  paper_bgcolor="white", plot_bgcolor="white", template="none",
                  annotations=annotations, **layout_axes)

fig.write_html("out.html")
